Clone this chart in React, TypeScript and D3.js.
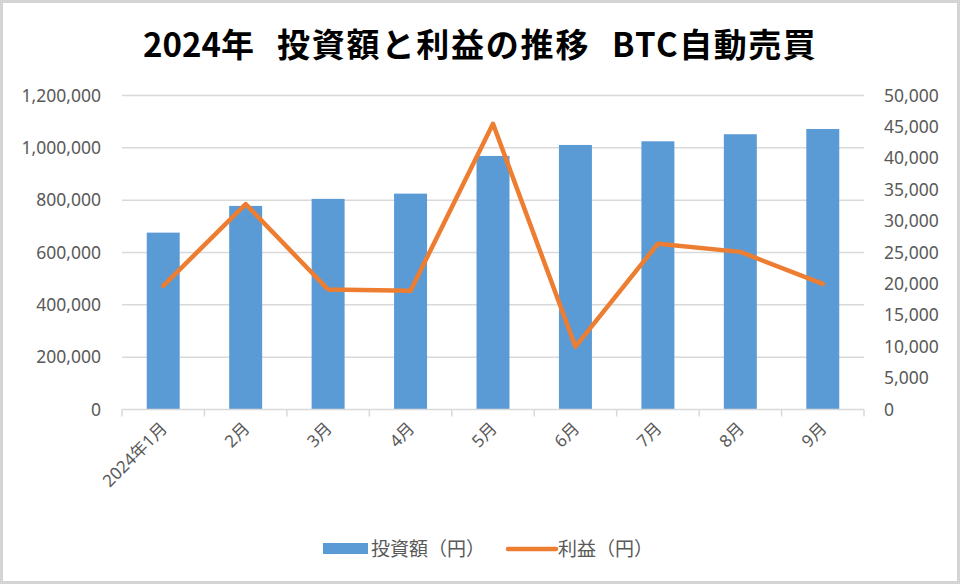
import * as d3 from 'd3';

const MONTHS = ['2024年1月', '2月', '3月', '4月', '5月', '6月', '7月', '8月', '9月'];
const INVEST = [676000, 778000, 805000, 825000, 969000, 1011000, 1025000, 1052000, 1072000];
const PROFIT = [19700, 32700, 19100, 18900, 45500, 10000, 26400, 25100, 20000];
const LEFT_TICKS = [0, 200000, 400000, 600000, 800000, 1000000, 1200000];
const RIGHT_TICKS = [0, 5000, 10000, 15000, 20000, 25000, 30000, 35000, 40000, 45000, 50000];
const TITLE_PARTS = ['2024年', '投資額と利益の推移', 'BTC自動売買'];

const W = 960, H = 584;
const P = { left: 122, right: 864, top: 95.5, bottom: 409.5 };
const BLUE = '#5b9bd5', ORANGE = '#ed7d31', GRID = '#d9d9d9', TXT = '#595959';
const FONT = '"Noto Sans", "Noto Sans CJK JP", sans-serif';
const CJK = '"Noto Sans CJK JP", sans-serif';
const fmt = d3.format(',');

export default function App() {
  const x = d3.scaleBand<string>().domain(MONTHS).range([P.left, P.right]).padding(0);
  const bw = x.bandwidth();
  const cx = (m: string) => (x(m) ?? 0) + bw / 2;
  const yL = d3.scaleLinear().domain([0, 1200000]).range([P.bottom, P.top]);
  const yR = d3.scaleLinear().domain([0, 50000]).range([P.bottom, P.top]);
  const line = d3.line<number>().x((_, i) => cx(MONTHS[i])).y(v => yR(v));

  // title pieces placed where the reference puts them
  const titleX = [143, 277, 612];
  const titleLS = [0, 1.8, 1.5];

  return (
    <>
      <style>{`body{margin:0}`}</style>
      <svg width={W} height={H} style={{ display: 'block', fontFamily: FONT }}>
        <rect x={0} y={0} width={W} height={H} fill="#fff" />
        <rect x={1.5} y={1.5} width={W - 3} height={H - 3} fill="none" stroke="#d4d4d4" strokeWidth={3} />

        <text y={57} fontSize={33} fontWeight="bold" fill="#000" fontFamily={CJK}>
          {TITLE_PARTS.map((t, i) => (
            <tspan key={t} x={titleX[i]} style={{ letterSpacing: `${titleLS[i]}px` }}>{t}</tspan>
          ))}
        </text>

        {/* gridlines + left ticks */}
        {LEFT_TICKS.map(t => (
          <g key={t}>
            {t > 0 && <line x1={P.left} x2={P.right} y1={yL(t)} y2={yL(t)} stroke={GRID} strokeWidth={1.5} />}
            <text x={101} y={yL(t) + 6} textAnchor="end" fontSize={17.5} fill={TXT}>{fmt(t)}</text>
          </g>
        ))}
        {RIGHT_TICKS.map(t => (
          <text key={t} x={884} y={yR(t) + 6} textAnchor="start" fontSize={17.5} fill={TXT}>{fmt(t)}</text>
        ))}

        {/* bars */}
        {MONTHS.map((m, i) => (
          <rect key={m} x={(x(m) ?? 0) + bw * 0.3} width={bw * 0.4} y={yL(INVEST[i])}
            height={P.bottom - yL(INVEST[i])} fill={BLUE} />
        ))}

        {/* x axis */}
        <line x1={P.left} x2={P.right} y1={P.bottom} y2={P.bottom} stroke={GRID} strokeWidth={1.5} />
        {[...MONTHS.map(m => x(m) ?? 0), P.right].map((v, i) => (
          <line key={i} x1={v} x2={v} y1={P.bottom} y2={P.bottom + 7} stroke={GRID} strokeWidth={1.5} />
        ))}
        {MONTHS.map(m => (
          <text key={m} transform={`translate(${cx(m) + 5},${P.bottom + 20}) rotate(-45)`}
            textAnchor="end" fontSize={17} fill={TXT}>{m}</text>
        ))}

        {/* profit line */}
        <path d={line(PROFIT) ?? ''} fill="none" stroke={ORANGE} strokeWidth={4.5}
          strokeLinejoin="round" strokeLinecap="round" />

        {/* legend */}
        <rect x={323} y={543} width={45} height={11} fill={BLUE} />
        <text x={371} y={556} fontSize={19} fill={TXT} fontFamily={CJK}>投資額（円）</text>
        <line x1={508} x2={556} y1={549} y2={549} stroke={ORANGE} strokeWidth={4.5} strokeLinecap="round" />
        <text x={558} y={556} fontSize={19} fill={TXT} fontFamily={CJK}>利益（円）</text>
      </svg>
    </>
  );
}
